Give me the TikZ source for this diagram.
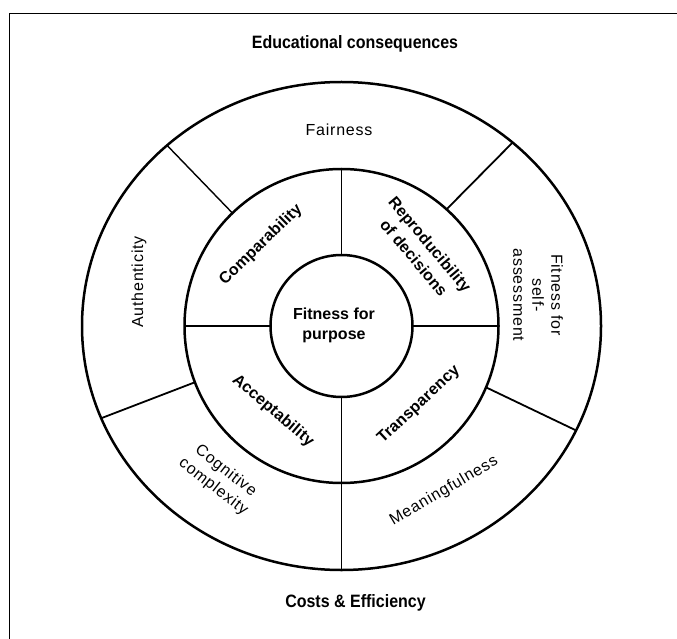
\documentclass[tikz,border=0pt]{standalone}
\usepackage{fontspec}
\setmainfont{Liberation Sans}
\newfontfamily\labfont{Liberation Sans}[LetterSpace=5]
\newfontfamily\boldlab{Liberation Sans}[LetterSpace=1]
\usetikzlibrary{shapes.geometric}
\begin{document}
\begin{tikzpicture}[x=1pt,y=-1pt,
  ring/.style={draw, inner sep=0pt, outer sep=0pt, line width=2.5pt},
  divider/.style={line width=1.8pt},
  reglab/.style={font=\labfont\fontsize{16}{19}\selectfont, align=center, inner sep=0pt},
  boldlabel/.style={font=\boldlab\bfseries\fontsize{16}{19}\selectfont, align=center, inner sep=0pt},
  titlelab/.style={font=\bfseries\fontsize{16}{19}\selectfont, inner sep=0pt}]
\useasboundingbox (0,0) rectangle (677,639);
% frame
\draw[line width=1.5pt] (9.5,639) -- (9.5,13.5) -- (677,13.5);
% rings
\node[ring, ellipse, minimum width=519pt, minimum height=488pt] (outer) at (341.5,326) {};
\node[ring, circle, minimum size=314pt] (mid) at (341.5,326) {};
\node[ring, circle, minimum size=142pt] (inner) at (341.5,326) {};
% dividers
\draw[divider] (mid.north) -- (inner.north);
\draw[divider] (mid.west) -- (inner.west);
\draw[divider] (inner.east) -- (mid.east);
\draw[divider] (inner.south) -- (outer.south);
\draw[divider, line width=1.4pt] (mid.134.3) -- (outer.134.5);
\draw[divider] (mid.48.5) -- (outer.47.8);
\draw[divider] (mid.201.8) -- (outer.201.5);
\draw[divider] (mid.-23.8) -- (outer.-24.3);
% titles
\node[titlelab] (edu) at (355,44) {\scalebox{1}[1.12]{Educational consequences}};
\node[titlelab] (cost) at (355.5,603) {\scalebox{1}[1.12]{Costs \& Efficiency}};
% outer ring labels
\node[reglab] (fair) at (339,130) {Fairness};
\node[reglab, rotate=90] (auth) at (139,282) {Authenticity};
\node[reglab, rotate=-90] (self) at (538,295) {Fitness for\\self-\\assessment};
\node[reglab, rotate=-38, font=\labfont\fontsize{16}{20}\selectfont] (cogn) at (219.5,479) {Cognitive\\complexity};
\node[reglab, rotate=30.4] (mean) at (444,491) {Meaningfulness};
% middle ring labels
\node[boldlabel, rotate=44.4] (comp) at (261,245) {Comparability};
\node[boldlabel, rotate=-50, font=\boldlab\bfseries\fontsize{16}{21}\selectfont] (repr) at (422,251) {Reproducibility\\of decisions};
\node[boldlabel, rotate=-40.4] (acce) at (273,411) {Acceptability};
\node[boldlabel, rotate=43] (tran) at (419,405) {Transparency};
% centre
\node[boldlabel, font=\bfseries\fontsize{16}{20}\selectfont] (fit) at (334,325) {Fitness for\\purpose};
\end{tikzpicture}
\end{document}
